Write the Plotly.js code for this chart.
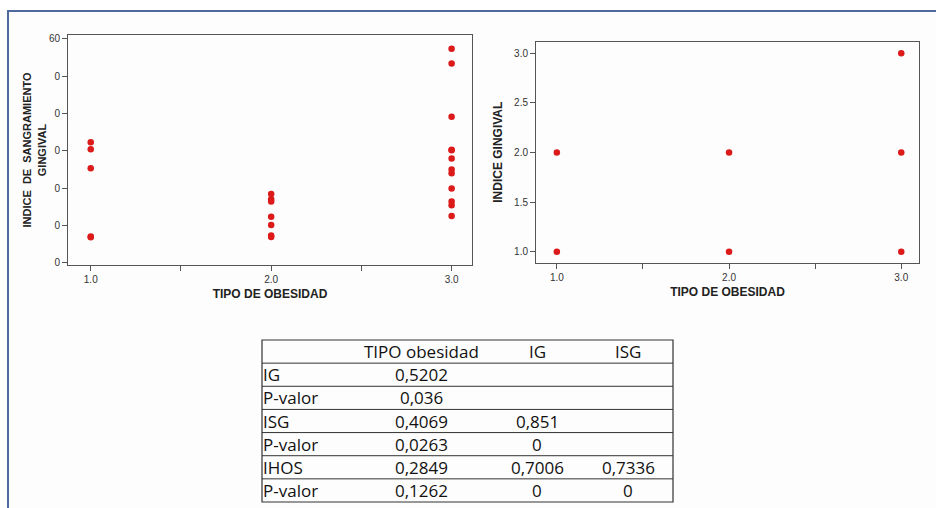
<!DOCTYPE html>
<html><head><meta charset="utf-8">
<script src="https://cdn.plot.ly/plotly-3.0.1.min.js"></script>
<style>html,body{margin:0;padding:0;background:#fff;} #chart{width:936px;height:508px;}</style>
</head><body><div id="chart"></div>
<script>
const W = 936, H = 508;
// Left chart: Indice de sangramiento gingival vs tipo de obesidad
const isgX = [1,1,1,1,1, 2,2,2,2,2,2,2, 3,3,3,3,3,3,3,3,3,3,3,3];
const isgY = [32.3,30.4,25.3,7.0,6.8, 18.4,17.0,16.4,12.3,10.1,7.3,6.9, 57.3,53.4,39.1,30.3,30.1,27.9,25.0,24.0,19.9,16.4,15.4,12.5];
// Right chart: Indice gingival vs tipo de obesidad
const igX = [1,1,2,2,3,3,3];
const igY = [2,1,2,1,3,2,1];
// Tick labels
const leftYTickVals = [0,10,20,30,40,50,60];
const leftYTickText = ["0","0","0","0","0","0","60"];
const xTickVals = [1,1.5,2,2.5,3];
const xTickText = ["1.0","","2.0","","3.0"];
const rightYTickVals = [1,1.5,2,2.5,3];
const rightYTickText = ["1.0","1.5","2.0","2.5","3.0"];
// Correlation table
const tableHeader = ["", "TIPO obesidad", "IG", "ISG"];
const rowLabels = ["IG","P-valor","ISG","P-valor","IHOS","P-valor"];
const colTipo = ["0,5202","0,036","0,4069","0,0263","0,2849","0,1262"];
const colIG = ["","","0,851","0","0,7006","0"];
const colISG = ["","","","","0,7336","0"];

const px = x => x / W;
const py = y => 1 - y / H;
const red = "#dc1a1a";
const axisCol = "#555";
const tickFont = {family: "Liberation Sans, Arial, sans-serif", size: 10, color: "#333"};
const titleFont = {family: "Liberation Sans, Arial, sans-serif", size: 12, color: "#222"};

const traces = [
  {type: "scatter", mode: "markers", x: isgX, y: isgY, xaxis: "x", yaxis: "y",
   marker: {color: red, size: 6.5}, hoverinfo: "x+y", showlegend: false},
  {type: "scatter", mode: "markers", x: igX, y: igY, xaxis: "x2", yaxis: "y2",
   marker: {color: red, size: 6.5}, hoverinfo: "x+y", showlegend: false}
];

const baseAxis = {showline: true, mirror: true, linecolor: axisCol, linewidth: 1,
  ticks: "outside", ticklen: 5, tickcolor: axisCol, tickwidth: 1,
  showgrid: false, zeroline: false, tickfont: tickFont, fixedrange: true};

// Table geometry
const tX0 = 262, tX1 = 673, tY0 = 340, tY1 = 502;
const nRows = 7;
const rowH = (tY1 - tY0) / nRows;
const colCenters = [null, 421, 537, 628];
const labelX = 261;

const shapes = [
  {type: "rect", xref: "paper", yref: "paper", x0: px(8), x1: px(W + 30), y0: py(11), y1: py(H + 30),
   line: {color: "#4f6b9e", width: 2}, fillcolor: "#fdfdfd", layer: "below"},
  {type: "rect", xref: "paper", yref: "paper", x0: px(tX0), x1: px(tX1), y0: py(tY0), y1: py(tY1),
   line: {color: "#333", width: 1.2}, fillcolor: "rgba(0,0,0,0)"}
];
for (let k = 1; k < nRows; k++) {
  shapes.push({type: "line", xref: "paper", yref: "paper", x0: px(tX0), x1: px(tX1),
    y0: py(tY0 + k * rowH), y1: py(tY0 + k * rowH), line: {color: "#333", width: 1}});
}

const tFont = {family: "Open Sans, sans-serif", size: 17, color: "#111"};
const annotations = [];
for (let c = 1; c < tableHeader.length; c++) {
  annotations.push({xref: "paper", yref: "paper", x: px(colCenters[c]), y: py(tY0 + 0.5 * rowH),
    text: tableHeader[c], showarrow: false, xanchor: "center", yanchor: "middle", font: tFont});
}
const cols = [colTipo, colIG, colISG];
for (let r = 0; r < rowLabels.length; r++) {
  const yc = py(tY0 + (r + 1.5) * rowH);
  annotations.push({xref: "paper", yref: "paper", x: px(labelX), y: yc, text: rowLabels[r],
    showarrow: false, xanchor: "left", yanchor: "middle", font: tFont});
  cols.forEach((col, ci) => {
    if (col[r] !== "") {
      annotations.push({xref: "paper", yref: "paper", x: px(colCenters[ci + 1]), y: yc, text: col[r],
        showarrow: false, xanchor: "center", yanchor: "middle", font: tFont});
    }
  });
}

const layout = {
  width: W, height: H,
  margin: {l: 0, r: 0, t: 0, b: 0},
  paper_bgcolor: "#ffffff", plot_bgcolor: "#ffffff",
  showlegend: false,
  xaxis: Object.assign({}, baseAxis, {domain: [px(68), px(472)], range: [0.874, 3.113], anchor: "y",
    tickvals: xTickVals, ticktext: xTickText,
    title: {text: "<b>TIPO DE OBESIDAD</b>", font: titleFont, standoff: 5}}),
  yaxis: Object.assign({}, baseAxis, {domain: [py(265), py(35)], range: [-0.6, 61.0], anchor: "x",
    tickvals: leftYTickVals, ticktext: leftYTickText,
    title: {text: "<b>INDICE&nbsp; DE&nbsp; SANGRAMIENTO<br>GINGIVAL</b>",
      font: {family: "Liberation Sans, Arial, sans-serif", size: 11, color: "#222"}, standoff: 0}}),
  xaxis2: Object.assign({}, baseAxis, {domain: [px(536), px(919)], range: [0.879, 3.103], anchor: "y2",
    tickvals: xTickVals, ticktext: xTickText,
    title: {text: "<b>TIPO DE OBESIDAD</b>", font: titleFont, standoff: 5}}),
  yaxis2: Object.assign({}, baseAxis, {domain: [py(262.7), py(41.7)], range: [0.889, 3.117], anchor: "x2",
    tickvals: rightYTickVals, ticktext: rightYTickText,
    title: {text: "<b>INDICE GINGIVAL</b>", font: titleFont, standoff: 8}}),
  shapes: shapes,
  annotations: annotations
};

Plotly.newPlot("chart", traces, layout, {displayModeBar: false, staticPlot: true});
</script>
</body></html>
